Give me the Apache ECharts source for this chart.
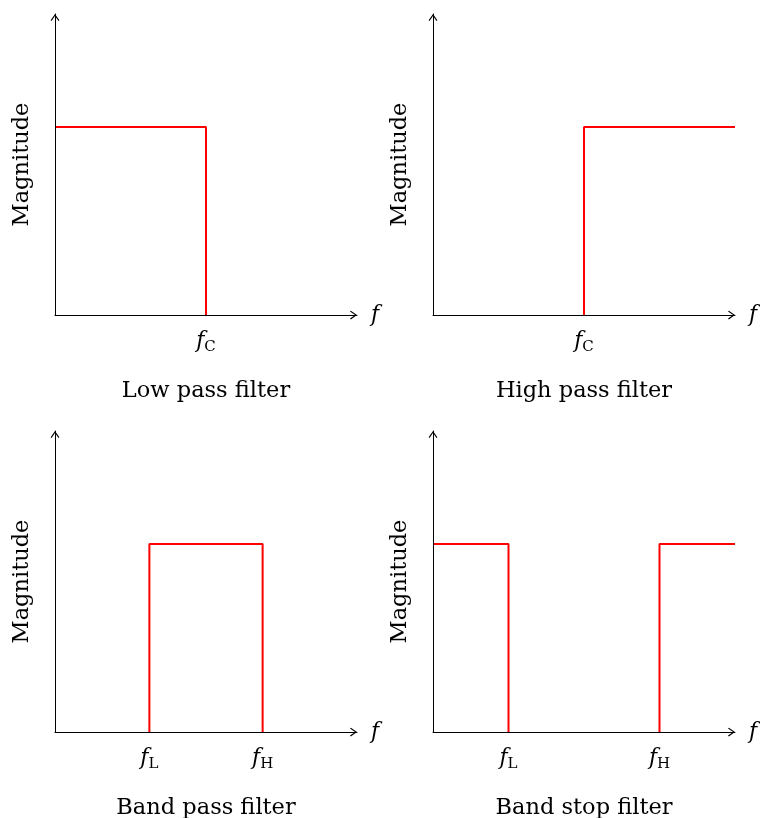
<!DOCTYPE html>
<html>
<head>
<meta charset="utf-8">
<script src="https://cdn.jsdelivr.net/npm/echarts@6/dist/echarts.min.js"></script>
<style>
  html, body { margin: 0; padding: 0; background: #fff; }
  #chart { width: 760px; height: 818px; }
</style>
</head>
<body>
<div id="chart"></div>
<script>
// filter responses, x = frequency (0..4), y = magnitude (0..1.6)
const lowPass = [[0, 1], [2, 1], [2, 0]]
const highPass = [[2, 0], [2, 1], [4, 1]]
const bandPass = [[1.25, 0], [1.25, 1], [2.75, 1], [2.75, 0]]
const bandStop = [[0, 1], [1, 1], [1, 0], '-', [3, 0], [3, 1], [4, 1]]

const titles = ['Low pass filter', 'High pass filter', 'Band pass filter', 'Band stop filter']
const tickValues = [[2], [2], [1.25, 2.75], [1, 3]]
const tickNames = [['C'], ['C'], ['L', 'H'], ['L', 'H']]
const seriesData = [lowPass, highPass, bandPass, bandStop]

const FONT = 'DejaVu Serif'
// panel positions (left, top)
const panels = [[55, 14], [433, 14], [55, 431], [433, 431]]
const W = 302
const H = 301

// open arrow head, drawn as thin filled chevron
const arrow = 'path://M5,0 L10,7 L9,8 L5,2.2 L1,8 L0,7 Z'

const grid = []
const xAxis = []
const yAxis = []
const series = []
const title = []

panels.forEach((p, i) => {
  grid.push({ left: p[0], top: p[1], width: W, height: H })
  xAxis.push({
    type: 'value',
    gridIndex: i,
    min: 0,
    max: 4,
    z: 5,
    splitLine: { show: false },
    axisTick: { show: false },
    axisLine: {
      onZero: false,
      lineStyle: { color: '#000', width: 1 },
      symbol: ['none', arrow],
      symbolSize: [10, 7],
      symbolOffset: [0, -3.5]
    },
    axisLabel: {
      customValues: tickValues[i],
      margin: 13,
      formatter: (v) => {
        const k = tickValues[i].indexOf(v)
        return '{i|f}{s|' + (k >= 0 ? tickNames[i][k] : '') + '}'
      },
      rich: {
        i: { fontFamily: FONT, fontStyle: 'italic', fontSize: 22, color: '#000' },
        s: { fontFamily: FONT, fontSize: 15, color: '#000', padding: [12, 0, 0, 0] }
      }
    },
    name: 'f',
    nameLocation: 'end',
    nameGap: 14,
    nameTextStyle: { fontFamily: FONT, fontStyle: 'italic', fontSize: 22, color: '#000' }
  })
  yAxis.push({
    type: 'value',
    gridIndex: i,
    min: 0,
    max: 1.6,
    z: 5,
    splitLine: { show: false },
    axisTick: { show: false },
    axisLabel: { show: false },
    axisLine: {
      onZero: false,
      lineStyle: { color: '#000', width: 1 },
      symbol: ['none', arrow],
      symbolSize: [10, 7],
      symbolOffset: [0, -3.5]
    },
    name: 'Magnitude',
    nameLocation: 'middle',
    nameGap: 21,
    nameTextStyle: { fontFamily: FONT, fontSize: 22.5, color: '#000' }
  })
  series.push({
    type: 'line',
    xAxisIndex: i,
    yAxisIndex: i,
    data: seriesData[i],
    symbol: 'none',
    connectNulls: false,
    lineStyle: { color: '#ff0000', width: 2 },
    animation: false
  })
  title.push({
    text: titles[i],
    left: p[0] + W / 2,
    top: p[1] + H + 65,
    padding: 0,
    textAlign: 'center',
    textStyle: { fontFamily: FONT, fontWeight: 'normal', fontSize: 22.5, color: '#000' }
  })
})

const chart = echarts.init(document.getElementById('chart'))
chart.setOption({
  animation: false,
  title,
  grid,
  xAxis,
  yAxis,
  series
})
</script>
</body>
</html>
